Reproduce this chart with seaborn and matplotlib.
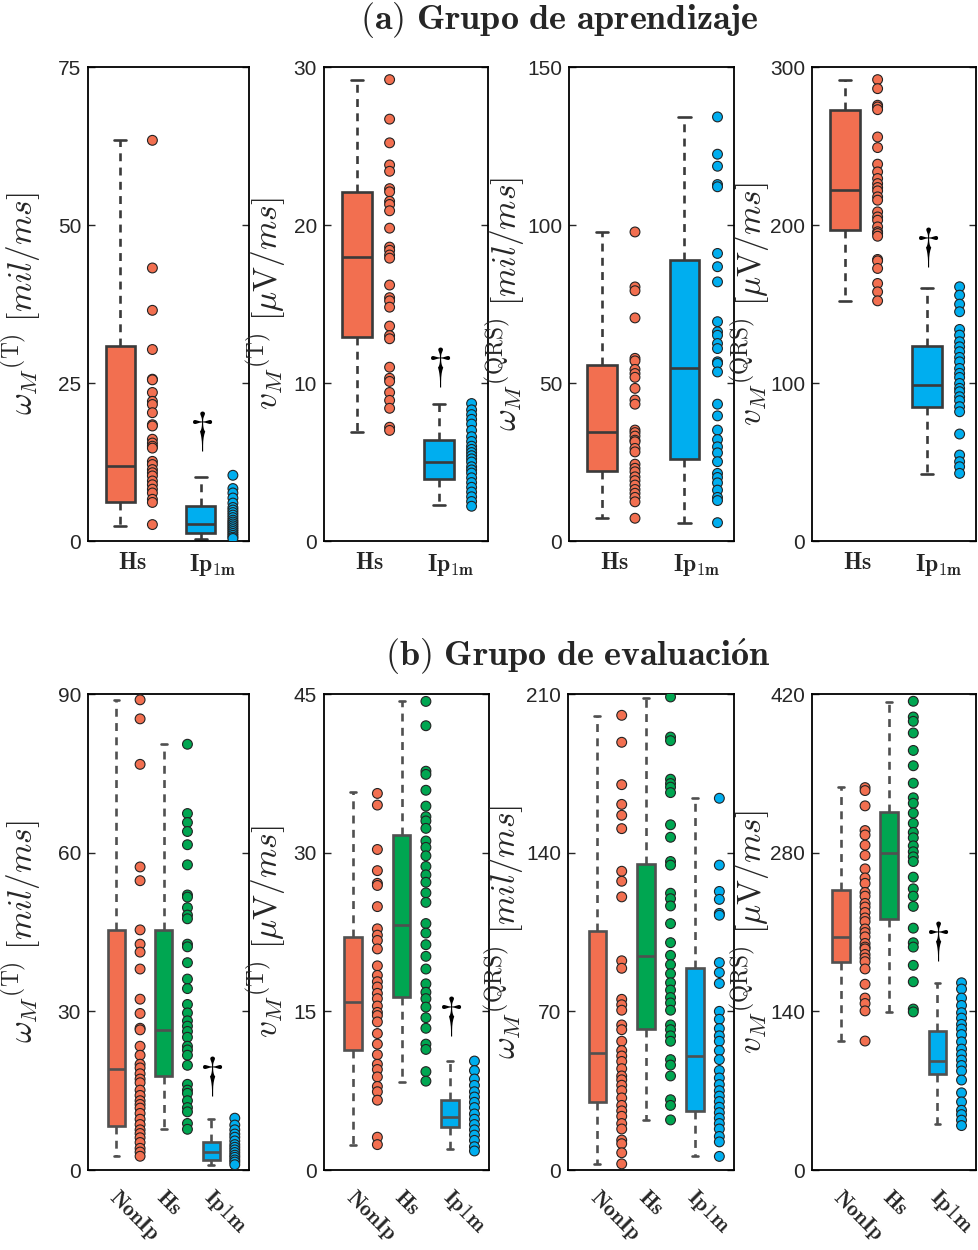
import numpy as np
import pandas as pd
import matplotlib
matplotlib.use("Agg")
import matplotlib.pyplot as plt
import seaborn as sns

# ---------------------------------------------------------------- colours
ORANGE = "#F26F50"
GREEN = "#00A651"
BLUE = "#00AEEF"
EDGE_A = "#3A3A3A"
EDGE_B = "#505050"

# ---------------------------------------------------------------- data
# (a) learning group: Hs vs Ip1m
# box statistics are [min, q1, median, q3, max]
a_wT_hs = [63.4, 43.2, 36.5, 30.3, 25.6, 25.5, 23.5, 22.1, 21.6, 20.3, 18.4, 18.2, 16.1, 15.5,
           15.0, 14.7, 12.6, 12.1, 11.3, 10.8, 10.3, 9.5, 8.9, 8.2, 7.6, 6.6, 6.1, 2.6]
a_wT_hs_box = [2.4, 6.2, 11.9, 30.8, 63.4]
a_wT_ip = [10.4, 8.3, 7.6, 6.8, 6.0, 5.3, 4.9, 4.5, 4.1, 3.7, 3.3, 3.0, 2.7, 2.4, 2.1, 1.8,
           1.5, 1.2, 0.9, 0.6, 0.4]
a_wT_ip_box = [0.3, 1.2, 2.7, 5.5, 10.2]

a_vT_hs = [29.2, 26.7, 25.2, 23.8, 23.4, 22.3, 22.1, 21.5, 21.3, 20.9, 19.8, 18.6, 18.4, 18.1,
           17.9, 16.2, 15.4, 15.2, 14.8, 13.6, 13.0, 12.8, 11.0, 10.3, 10.1, 9.4, 8.9, 8.4, 7.2, 7.0]
a_vT_hs_box = [6.9, 12.9, 18.0, 22.1, 29.2]
a_vT_ip = [8.7, 8.3, 8.0, 7.7, 7.4, 7.0, 6.6, 6.3, 6.0, 5.8, 5.6, 5.4, 5.2, 5.0, 4.7, 4.5,
           4.3, 4.0, 3.7, 3.4, 3.1, 2.8, 2.5, 2.2]
a_vT_ip_box = [2.3, 3.9, 5.0, 6.4, 8.7]

a_wQ_hs = [97.8, 80.4, 79.2, 70.6, 57.8, 57.0, 54.3, 53.0, 51.8, 48.3, 44.6, 43.3, 35.1, 34.3,
           33.2, 31.9, 31.4, 29.3, 28.2, 24.3, 23.0, 21.9, 20.3, 19.1, 17.7, 16.3, 15.1, 13.8,
           12.4, 7.2]
a_wQ_hs_box = [7.2, 22.1, 34.6, 55.7, 97.8]
a_wQ_ip = [134.2, 122.4, 118.6, 112.8, 112.1, 91.0, 86.8, 82.0, 69.4, 66.2, 65.1, 62.5, 60.9,
           56.7, 56.2, 53.5, 43.3, 39.6, 35.1, 32.1, 29.8, 27.9, 25.1, 21.4, 20.1, 18.4, 16.1,
           13.8, 12.8, 5.8]
a_wQ_ip_box = [5.8, 26.0, 54.9, 88.9, 134.2]

a_vQ_hs = [292.0, 286.3, 275.8, 274.7, 273.0, 255.7, 249.0, 238.5, 233.6, 229.4, 226.2, 223.7,
           221.6, 217.8, 215.7, 208.3, 205.1, 203.0, 198.8, 195.7, 194.6, 192.9, 178.2, 177.3,
           172.5, 163.0, 157.7, 152.0]
a_vQ_hs_box = [152.0, 196.7, 222.0, 273.0, 292.0]
a_vQ_ip = [160.9, 155.6, 149.9, 145.1, 133.9, 130.3, 126.1, 122.9, 119.8, 116.2, 113.4, 109.2,
           106.1, 103.5, 99.7, 96.6, 94.5, 91.3, 88.8, 85.0, 81.8, 67.7, 54.4, 50.2, 47.0, 42.8]
a_vQ_ip_box = [42.4, 85.0, 98.7, 123.3, 160.4]

# (b) evaluation group: NonIp, Hs, Ip1m
b_wT_non = [88.9, 85.3, 76.7, 57.3, 54.7, 45.4, 42.7, 41.2, 38.0, 32.3, 29.6, 26.8, 26.5, 23.4,
            21.7, 20.0, 19.3, 18.2, 17.2, 16.5, 15.1, 14.1, 13.1, 12.4, 11.7, 10.7, 9.6, 8.6,
            7.6, 6.9, 6.1, 5.2, 4.1, 3.4, 2.6]
b_wT_non_box = [2.6, 8.3, 19.1, 45.4, 88.9]
b_wT_hs = [80.5, 67.4, 65.7, 64.0, 61.5, 57.7, 52.0, 51.6, 49.6, 48.2, 47.5, 42.7, 42.2, 39.2,
           36.1, 34.3, 31.3, 29.7, 28.2, 27.2, 26.2, 25.1, 23.4, 22.7, 21.7, 19.8, 16.2, 15.1,
           14.5, 13.1, 11.8, 11.0, 8.8, 7.7]
b_wT_hs_box = [7.7, 17.7, 26.4, 45.3, 80.5]
b_wT_ip = [9.8, 8.5, 7.6, 6.8, 6.2, 5.5, 4.8, 4.3, 3.8, 3.3, 2.8, 2.4, 1.9, 1.5, 1.0]
b_wT_ip_box = [1.0, 1.9, 3.4, 5.2, 9.6]

b_vT_non = [35.6, 34.5, 30.3, 28.3, 27.1, 26.9, 24.9, 22.8, 22.2, 21.7, 20.9, 19.3, 18.4, 17.8,
            17.3, 16.7, 16.2, 15.5, 14.9, 14.6, 14.0, 12.9, 11.9, 10.9, 10.0, 9.5, 8.8, 7.9,
            7.4, 6.6, 3.1, 2.4]
b_vT_non_box = [2.4, 11.3, 15.9, 22.0, 35.7]
b_vT_hs = [44.3, 42.0, 37.7, 37.4, 35.9, 34.4, 33.4, 33.0, 32.3, 31.1, 30.5, 29.7, 28.7, 27.9,
           27.2, 26.2, 25.3, 23.3, 22.4, 21.3, 20.2, 19.0, 17.6, 16.8, 16.2, 15.4, 14.4, 13.4,
           11.9, 11.4, 9.3, 8.4]
b_vT_hs_box = [8.3, 16.4, 23.2, 31.7, 44.3]
b_vT_ip = [10.3, 9.4, 8.6, 8.0, 7.4, 6.9, 6.4, 5.9, 5.3, 4.8, 4.3, 3.8, 3.3, 2.8, 2.2, 1.8]
b_vT_ip_box = [2.0, 4.1, 5.0, 6.6, 10.3]

b_wQ_non = [200.6, 188.7, 170.0, 161.3, 156.5, 150.6, 131.8, 127.4, 120.5, 92.3, 89.0, 75.3,
            72.9, 70.5, 64.0, 61.9, 56.8, 52.7, 50.3, 47.9, 44.7, 41.5, 39.8, 37.4, 35.0, 31.8,
            28.5, 26.1, 23.7, 20.5, 18.1, 13.2, 11.6, 7.6, 2.7]
b_wQ_non_box = [2.7, 30.2, 51.6, 105.6, 200.3]
b_wQ_hs = [208.7, 191.0, 189.4, 172.4, 170.5, 168.9, 166.5, 152.3, 146.8, 136.1, 134.5, 122.1,
           119.7, 116.5, 108.7, 100.3, 94.7, 90.6, 86.6, 82.6, 79.4, 76.1, 73.7, 70.5, 64.0,
           61.9, 59.2, 56.8, 48.7, 46.3, 41.5, 31.0, 28.5, 22.1]
b_wQ_hs_box = [22.1, 62.4, 94.2, 135.0, 208.4]
b_wQ_ip = [164.0, 134.5, 122.9, 119.4, 113.2, 112.4, 91.5, 87.1, 82.3, 70.0, 66.5, 62.4, 59.2,
           56.8, 52.7, 48.7, 43.9, 40.6, 37.7, 35.0, 32.6, 30.2, 27.7, 25.3, 22.9, 20.5, 18.1,
           14.8, 12.4, 6.0]
b_wQ_ip_box = [6.0, 26.1, 50.3, 89.0, 164.0]

b_vQ_non = [337.4, 334.8, 321.3, 299.5, 295.6, 286.6, 277.6, 265.7, 257.7, 252.9, 244.9, 241.6,
            235.2, 232.0, 227.2, 222.4, 219.2, 212.7, 209.5, 205.7, 199.9, 196.7, 195.1, 190.2,
            187.0, 183.8, 177.4, 163.9, 151.7, 146.9, 140.4, 113.8]
b_vQ_non_box = [113.8, 183.8, 205.7, 247.4, 338.0]
b_vQ_hs = [413.6, 399.7, 395.9, 385.6, 370.2, 356.7, 341.3, 328.4, 323.6, 314.9, 305.9, 297.9,
           293.1, 286.0, 280.8, 276.3, 272.2, 258.4, 248.1, 241.6, 232.6, 213.4, 200.5, 196.7,
           180.6, 166.1, 142.0, 139.5]
b_vQ_hs_box = [139.5, 221.4, 279.6, 315.6, 412.6]
b_vQ_ip = [165.2, 159.7, 151.7, 145.2, 138.8, 134.0, 128.5, 124.4, 119.5, 113.1, 106.7, 101.9,
           97.0, 92.2, 87.4, 79.4, 68.1, 60.1, 52.7, 48.9, 44.0, 39.2]
b_vQ_ip_box = [40.2, 84.8, 96.4, 122.7, 165.2]

# group labels
groups_a = ["Hs", "Ip1m"]
groups_b = ["NonIp", "Hs", "Ip1m"]
ticklabels_a = [r"$\mathbf{Hs}$", r"$\mathbf{Ip}_{\mathbf{1m}}$"]
ticklabels_b = [r"$\mathbf{NonIp}$", r"$\mathbf{Hs}$", r"$\mathbf{Ip1m}$"]

# y-axis labels and limits
ylab_wT = r"$\omega_M{}^{(\mathrm{T})}\ [mil/ms]$"
ylab_vT = r"$v_M{}^{(\mathrm{T})}\ [\mu \mathrm{V}/ms]$"
ylab_wQ = r"$\omega_M{}^{(\mathrm{QRS})}\ [mil/ms]$"
ylab_vQ = r"$v_M{}^{(\mathrm{QRS})}\ [\mu \mathrm{V}/ms]$"

ymax_a = [75, 30, 150, 300]
ymax_b = [90, 45, 210, 420]
# significance marker height (None = no marker)
dagger_a = [17.4, 11.0, None, 186.0]
dagger_b = [17.6, 14.5, None, 202.0]

panels_a = [
    ([a_wT_hs, a_wT_ip], [a_wT_hs_box, a_wT_ip_box], ylab_wT),
    ([a_vT_hs, a_vT_ip], [a_vT_hs_box, a_vT_ip_box], ylab_vT),
    ([a_wQ_hs, a_wQ_ip], [a_wQ_hs_box, a_wQ_ip_box], ylab_wQ),
    ([a_vQ_hs, a_vQ_ip], [a_vQ_hs_box, a_vQ_ip_box], ylab_vQ),
]
panels_b = [
    ([b_wT_non, b_wT_hs, b_wT_ip], [b_wT_non_box, b_wT_hs_box, b_wT_ip_box], ylab_wT),
    ([b_vT_non, b_vT_hs, b_vT_ip], [b_vT_non_box, b_vT_hs_box, b_vT_ip_box], ylab_vT),
    ([b_wQ_non, b_wQ_hs, b_wQ_ip], [b_wQ_non_box, b_wQ_hs_box, b_wQ_ip_box], ylab_wQ),
    ([b_vQ_non, b_vQ_hs, b_vQ_ip], [b_vQ_non_box, b_vQ_hs_box, b_vQ_ip_box], ylab_vQ),
]

# ---------------------------------------------------------------- style
sns.set_style("white")
plt.rcParams["font.family"] = ["Liberation Sans", "DejaVu Sans"]
plt.rcParams["mathtext.fontset"] = "cm"

fig = plt.figure(figsize=(9.79, 12.5), dpi=100)
W, H = 979.0, 1250.0


def make_axes(x0, x1, y0, y1):
    return fig.add_axes([x0 / W, 1 - y1 / H, (x1 - x0) / W, (y1 - y0) / H])


def draw_panel(ax, points, boxes, groups, colors, ymax, ylabel, xlim, pt_off,
               capw, dagger, ticklabels, rotate, label_x, edge, tick_off):
    box_df = pd.DataFrame({
        "pos": np.repeat(np.arange(len(groups)), 5).astype(float),
        "val": np.concatenate(boxes),
        "grp": np.repeat(groups, 5),
    })
    pt_df = pd.DataFrame({
        "pos": np.concatenate([np.full(len(p), i + pt_off) for i, p in enumerate(points)]),
        "val": np.concatenate(points),
        "grp": np.concatenate([[g] * len(p) for g, p in zip(groups, points)]),
    })
    pal = dict(zip(groups, colors))
    sns.boxplot(data=box_df, x="pos", y="val", hue="grp", palette=pal, native_scale=True,
                width=0.36, whis=(0, 100), saturation=1, linecolor=edge, linewidth=1.9,
                legend=False, capwidths=capw, showfliers=False,
                whiskerprops=dict(linestyle=(0, (3.0, 2.4))), ax=ax)
    sns.scatterplot(data=pt_df, x="pos", y="val", hue="grp", palette=pal, s=50,
                    edgecolor="#222222", linewidth=0.8, legend=False, zorder=3, ax=ax)
    if dagger is not None:
        ax.text(len(groups) - 1, dagger, r"$\dagger$", ha="center", va="center",
                fontsize=36, color="black")
    ax.set_xlim(*xlim)
    ax.set_ylim(0, ymax)
    ax.set_yticks(np.linspace(0, ymax, 4))
    ax.set_yticklabels([f"{v:g}" for v in np.linspace(0, ymax, 4)])
    ax.set_xticks(np.arange(len(groups)) + tick_off)
    if rotate:
        ax.set_xticklabels(ticklabels, rotation=-45, ha="left", va="center",
                           rotation_mode="anchor", fontsize=15.5)
        ax.tick_params(axis="x", pad=17)
    else:
        ax.set_xticklabels(ticklabels, fontsize=17)
        ax.tick_params(axis="x", pad=8)
    ax.tick_params(axis="x", length=0)
    ax.tick_params(axis="y", direction="in", length=5, width=1, right=True, left=True,
                   labelsize=15, labelcolor="#262626", color="#262626", pad=5)
    ax.set_xlabel("")
    ax.set_ylabel(ylabel, fontsize=24)
    ax.yaxis.set_label_coords(label_x, 0.5)
    for sp in ax.spines.values():
        sp.set_linewidth(1.3)
        sp.set_color("black")
        sp.set_visible(True)


cols_a = [(88, 249), (324, 488), (569, 734), (812, 976)]
cols_b = [(88, 249), (324, 489), (568, 734), (812, 976)]
lab_x = [-0.28, -0.22, -0.255, -0.245]

for k, (pts, bxs, ylab) in enumerate(panels_a):
    ax = make_axes(cols_a[k][0], cols_a[k][1], 67, 541)
    draw_panel(ax, pts, bxs, groups_a, [ORANGE, BLUE], ymax_a[k], ylab, (-0.4, 1.6), 0.4,
               0.15, dagger_a[k], ticklabels_a, False, lab_x[k], EDGE_A, 0.15)

for k, (pts, bxs, ylab) in enumerate(panels_b):
    ax = make_axes(cols_b[k][0], cols_b[k][1], 694, 1170)
    draw_panel(ax, pts, bxs, groups_b, [ORANGE, GREEN, BLUE], ymax_b[k], ylab, (-0.6, 2.8),
               0.5, 0.12, dagger_b[k], ticklabels_b, True, lab_x[k], EDGE_B, -0.09)

fig.text(559 / W, 1 - 20 / H, r"$\mathbf{(a)\ Grupo\ de\ aprendizaje}$", ha="center",
         va="center", fontsize=26)
fig.text(578 / W, 1 - 657 / H, r"$\mathbf{(b)\ Grupo\ de\ evaluaci\acute{o}n}$", ha="center",
         va="center", fontsize=26)

fig.savefig("out.png", dpi=100)
